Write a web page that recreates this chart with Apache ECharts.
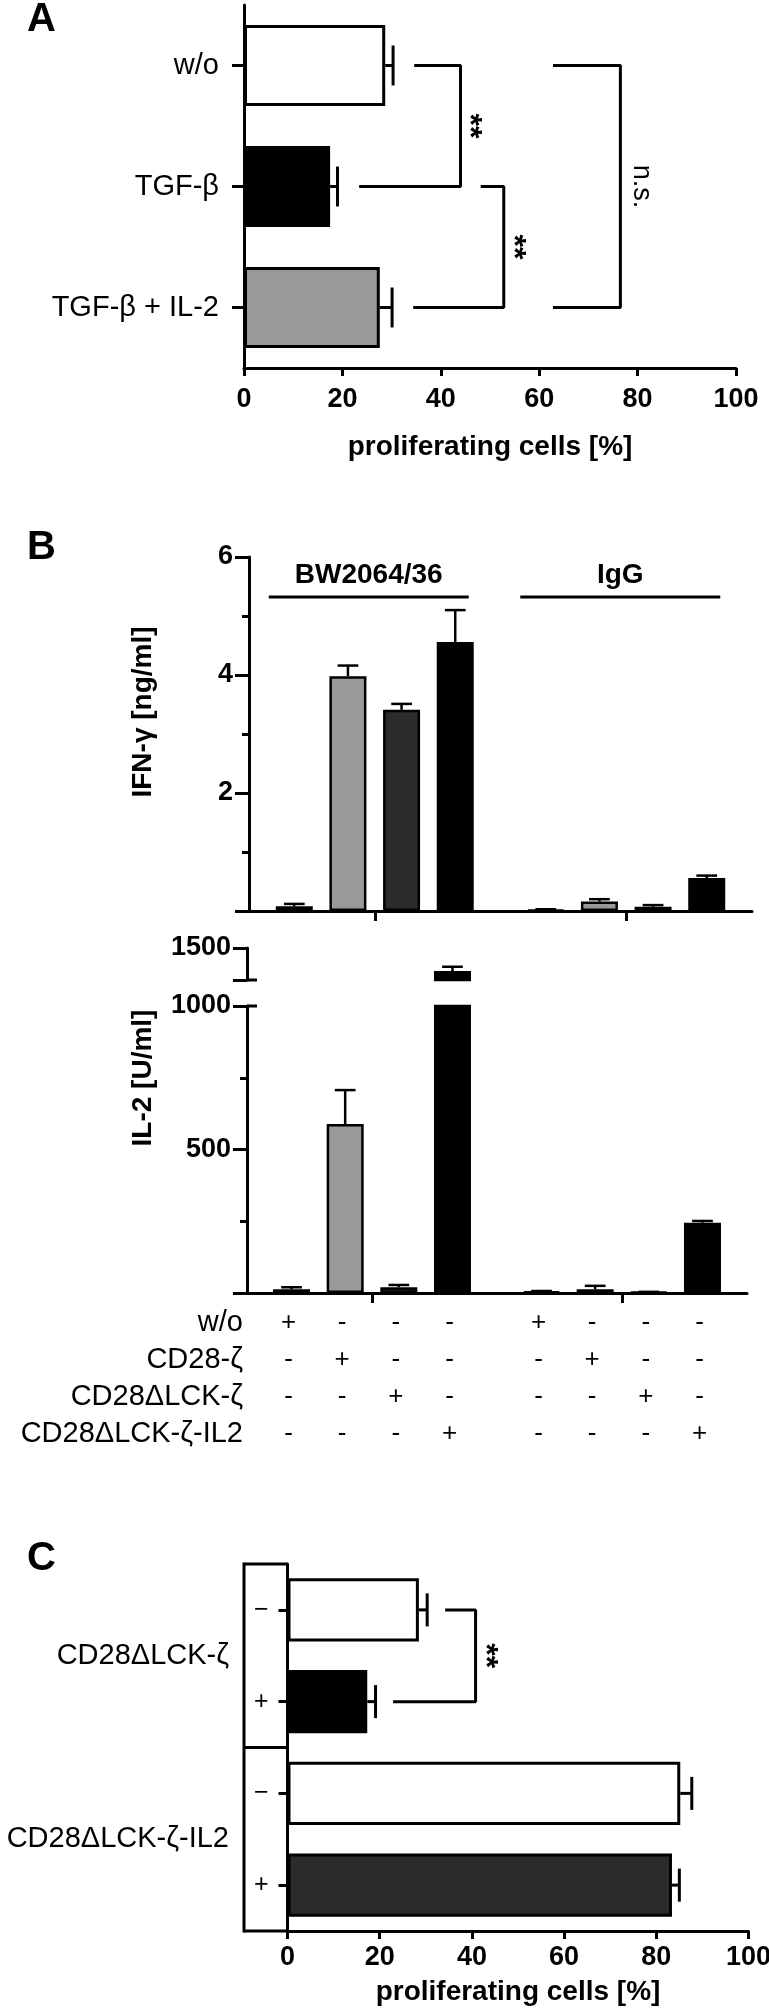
<!DOCTYPE html>
<html><head><meta charset="utf-8">
<script src="https://cdn.jsdelivr.net/npm/echarts@6/dist/echarts.min.js"></script>
<style>html,body{margin:0;padding:0;background:#fff}#c{width:769px;height:2008px}</style>
</head><body><div id="c"></div>
<script>
// ---------------- DATA ----------------
// Panel A
const aCategories = ['w/o', 'TGF-β', 'TGF-β + IL-2'];
const aValues = [28.7, 17.5, 27.6];
const aErrors = [1.6, 1.5, 2.5];
const aTicks = [0, 20, 40, 60, 80, 100];
const aBracketFrom = [0, 1, 0];
const aBracketTo = [1, 2, 2];
const aBracketStart = [34.6, 48.1, 62.8];
const aBracketSpine = [44.0, 52.8, 76.5];
const aBracketEnd = [23.4, 34.4, 62.8];
const aBracketText = ['**', '**', 'n.s.'];
const aBracketTextX = [47.6, 56.4, 80.7];
// Panel B
const groups = ['BW2064/36', 'IgG'];
const constructs = ['w/o', 'CD28-ζ', 'CD28ΔLCK-ζ', 'CD28ΔLCK-ζ-IL2'];
const ifnBW = [0.08, 3.98, 3.41, 4.56];
const ifnBWErr = [0.04, 0.18, 0.10, 0.54];
const ifnIgG = [0.02, 0.16, 0.07, 0.56];
const ifnIgGErr = [0.01, 0.04, 0.03, 0.04];
const il2BW = [13, 589, 20, 1140];
const il2BWErr = [7, 118, 8, 67];
const il2IgG = [5, 13, 3, 245];
const il2IgGErr = [2, 12, 1, 6];
const ifnTicks = [0, 2, 4, 6];
const il2LowTicks = [0, 500, 1000];
const il2HighTicks = [1000, 1500];
// Panel C
const cGroups = ['CD28ΔLCK-ζ', 'CD28ΔLCK-ζ-IL2'];
const cCategories = ['−', '+', '−', '+'];
const cValues = [28.5, 17.3, 85.2, 83.4];
const cErrors = [1.8, 1.8, 2.5, 1.6];
const cTicks = [0, 20, 40, 60, 80, 100];
const cBracketFrom = 0, cBracketTo = 1;
const cBracketStart = 34.2, cBracketSpine = 40.8, cBracketEnd = 22.9, cBracketTextX = 44.7;

// ---------------- STYLE ----------------
const FONT = '"Liberation Sans", Arial, Helvetica, sans-serif';
const aColors = ['#ffffff', '#000000', '#999999'];
const bColors = ['#999999', '#999999', '#2b2b2b', '#000000'];
const cColors = ['#ffffff', '#000000', '#ffffff', '#2b2b2b'];
const B_BAR_W = 37, B_GAP = 0.45, B_STEP = B_BAR_W * (1 + B_GAP);
const LW = 3;
const LABEL_SIZE = 29;
const STAR_SIZE = 32;
const axLine = {color: '#000', width: LW};

const chart = echarts.init(document.getElementById('c'), null, {renderer: 'canvas', width: 769, height: 2008});

function numLabel(extra) {
  return Object.assign({show: true, fontFamily: FONT, fontWeight: 'bold', fontSize: 27, color: '#000'}, extra || {});
}
function hErr(capFrac) {
  return function (params, api) {
    const m = api.value(0), c = api.value(1), e = api.value(2);
    const p0 = api.coord([m, c]), p1 = api.coord([m + e, c]);
    const half = api.size([0, 1])[1] * capFrac;
    return {type: 'group', children: [
      {type: 'line', shape: {x1: p0[0], y1: p0[1], x2: p1[0], y2: p1[1]}, style: {stroke: '#000', lineWidth: LW}},
      {type: 'line', shape: {x1: p1[0], y1: p1[1] - half, x2: p1[0], y2: p1[1] + half}, style: {stroke: '#000', lineWidth: LW}}
    ]};
  };
}
function vErr(params, api) {
  const g = api.value(0), m = api.value(1), s = api.value(2), e = api.value(3);
  const p0 = api.coord([g, m]), p1 = api.coord([g, m + e]);
  const x = p0[0] + (s - 1.5) * B_STEP;
  const half = B_BAR_W * 0.28;
  return {type: 'group', children: [
    {type: 'line', shape: {x1: x, y1: p0[1], x2: x, y2: p1[1]}, style: {stroke: '#000', lineWidth: 2.5}},
    {type: 'line', shape: {x1: x - half, y1: p1[1], x2: x + half, y2: p1[1]}, style: {stroke: '#000', lineWidth: 2.5}}
  ]};
}

const series = [];
// Panel A
series.push({type: 'bar', xAxisIndex: 0, yAxisIndex: 0, barCategoryGap: '33%',
  data: aValues.map((v, i) => ({value: v, itemStyle: {color: aColors[i]}})),
  itemStyle: {borderColor: '#000', borderWidth: LW}});
series.push({type: 'custom', xAxisIndex: 0, yAxisIndex: 0, encode: {x: 0, y: 1}, z: 4,
  data: aValues.map((v, i) => [v, i, aErrors[i]]), renderItem: hErr(0.165)});
for (let k = 0; k < aBracketFrom.length; k++) {
  series.push({type: 'line', xAxisIndex: 0, yAxisIndex: 0, symbol: 'none', silent: true, z: 5,
    lineStyle: {color: '#000', width: LW},
    data: [[aBracketStart[k], aBracketFrom[k]], [aBracketSpine[k], aBracketFrom[k]],
           [aBracketSpine[k], aBracketTo[k]], [aBracketEnd[k], aBracketTo[k]]]});
}
// Panel B – IFN
const bIfnIdx = [];
for (let s = 0; s < 4; s++) {
  bIfnIdx.push(series.length);
  series.push({type: 'bar', xAxisIndex: 1, yAxisIndex: 1, barWidth: B_BAR_W, barGap: (B_GAP * 100) + '%',
    data: [ifnBW[s], ifnIgG[s]], itemStyle: {color: bColors[s], borderColor: '#000', borderWidth: 2.5}});
}
const ifnErrData = [];
for (let s = 0; s < 4; s++) { ifnErrData.push([0, ifnBW[s], s, ifnBWErr[s]]); ifnErrData.push([1, ifnIgG[s], s, ifnIgGErr[s]]); }
series.push({type: 'custom', xAxisIndex: 1, yAxisIndex: 1, encode: {x: 0, y: 1}, z: 1, data: ifnErrData, renderItem: vErr});
// Panel B – IL-2 upper (broken) segment
const brk = il2HighTicks[0];
for (let s = 0; s < 4; s++) {
  series.push({type: 'bar', xAxisIndex: 2, yAxisIndex: 2, barWidth: B_BAR_W, barGap: (B_GAP * 100) + '%', clip: true,
    data: [il2BW[s] > brk ? il2BW[s] : '-', il2IgG[s] > brk ? il2IgG[s] : '-'],
    itemStyle: {color: bColors[s], borderColor: '#000', borderWidth: 2.5}});
}
const il2HiErr = [], il2LoErr = [], il2LowIdx = [];
for (let s = 0; s < 4; s++) {
  [[0, il2BW[s], il2BWErr[s]], [1, il2IgG[s], il2IgGErr[s]]].forEach(function (d) {
    if (d[1] > brk) il2HiErr.push([d[0], d[1], s, d[2]]); else il2LoErr.push([d[0], d[1], s, d[2]]);
  });
}
series.push({type: 'custom', xAxisIndex: 2, yAxisIndex: 2, encode: {x: 0, y: 1}, z: 1, data: il2HiErr, renderItem: vErr});
for (let s = 0; s < 4; s++) {
  il2LowIdx.push(series.length);
  series.push({type: 'bar', xAxisIndex: 3, yAxisIndex: 3, barWidth: B_BAR_W, barGap: (B_GAP * 100) + '%', clip: true,
    data: [il2BW[s], il2IgG[s]], itemStyle: {color: bColors[s], borderColor: '#000', borderWidth: 2.5}});
}
series.push({type: 'custom', xAxisIndex: 3, yAxisIndex: 3, encode: {x: 0, y: 1}, z: 1, data: il2LoErr, renderItem: vErr});
// Panel C
series.push({type: 'bar', xAxisIndex: 4, yAxisIndex: 4, barCategoryGap: '31%',
  data: cValues.map((v, i) => ({value: v, itemStyle: {color: cColors[i]}})),
  itemStyle: {borderColor: '#000', borderWidth: LW}});
series.push({type: 'custom', xAxisIndex: 4, yAxisIndex: 4, encode: {x: 0, y: 1}, z: 4,
  data: cValues.map((v, i) => [v, i, cErrors[i]]), renderItem: hErr(0.18)});
series.push({type: 'line', xAxisIndex: 4, yAxisIndex: 4, symbol: 'none', silent: true, z: 5,
  lineStyle: {color: '#000', width: LW},
  data: [[cBracketStart, cBracketFrom], [cBracketSpine, cBracketFrom], [cBracketSpine, cBracketTo], [cBracketEnd, cBracketTo]]});

const gridBase = {containLabel: false, outerBoundsMode: 'none'};
const option = {
  animation: false,
  backgroundColor: '#ffffff',
  textStyle: {fontFamily: FONT, color: '#000'},
  grid: [
    Object.assign({left: 244, top: 5, width: 492, height: 363}, gridBase),
    Object.assign({left: 249, top: 557, width: 503, height: 354}, gridBase),
    Object.assign({left: 247, top: 948, width: 500, height: 32}, gridBase),
    Object.assign({left: 247, top: 1006, width: 500, height: 287}, gridBase),
    Object.assign({left: 287.5, top: 1564, width: 461, height: 367}, gridBase)
  ],
  xAxis: [
    {gridIndex: 0, type: 'value', min: aTicks[0], max: aTicks[aTicks.length - 1], interval: aTicks[1] - aTicks[0],
      axisLine: {show: true, onZero: false, lineStyle: axLine}, axisTick: {show: true, length: 8, lineStyle: axLine},
      splitLine: {show: false}, axisLabel: numLabel({margin: 18}),
      name: 'proliferating cells [%]', nameLocation: 'middle', nameGap: 79,
      nameTextStyle: {fontFamily: FONT, fontWeight: 'bold', fontSize: 28, color: '#000', verticalAlign: 'middle'}},
    {gridIndex: 1, type: 'category', data: groups, axisLine: {show: true, onZero: false, lineStyle: axLine},
      axisTick: {show: true, alignWithLabel: true, length: 10, lineStyle: axLine}, axisLabel: {show: false}, splitLine: {show: false}},
    {gridIndex: 2, type: 'category', data: groups, show: false},
    {gridIndex: 3, type: 'category', data: groups, axisLine: {show: true, onZero: false, lineStyle: axLine},
      axisTick: {show: true, alignWithLabel: true, length: 10, lineStyle: axLine}, axisLabel: {show: false}, splitLine: {show: false}},
    {gridIndex: 4, type: 'value', min: cTicks[0], max: cTicks[cTicks.length - 1], interval: cTicks[1] - cTicks[0],
      axisLine: {show: true, onZero: false, lineStyle: axLine}, axisTick: {show: true, length: 8, lineStyle: axLine},
      splitLine: {show: false}, axisLabel: numLabel({margin: 13}),
      name: 'proliferating cells [%]', nameLocation: 'middle', nameGap: 61,
      nameTextStyle: {fontFamily: FONT, fontWeight: 'bold', fontSize: 28, color: '#000', verticalAlign: 'middle'}}
  ],
  yAxis: [
    {gridIndex: 0, type: 'category', data: aCategories, inverse: true,
      axisLine: {show: true, onZero: false, lineStyle: axLine},
      axisTick: {show: true, alignWithLabel: true, length: 12, lineStyle: axLine},
      axisLabel: {fontFamily: FONT, fontSize: LABEL_SIZE, color: '#000', margin: 25}, splitLine: {show: false}},
    {gridIndex: 1, type: 'value', min: ifnTicks[0], max: ifnTicks[ifnTicks.length - 1], interval: ifnTicks[1] - ifnTicks[0],
      axisLine: {show: true, onZero: false, lineStyle: axLine}, axisTick: {show: true, length: 14, lineStyle: axLine},
      minorTick: {show: true, splitNumber: 2, length: 7, lineStyle: {color: '#000', width: LW}},
      splitLine: {show: false}, minorSplitLine: {show: false},
      axisLabel: numLabel({margin: 16, formatter: v => (v === ifnTicks[0] ? '' : String(v))})},
    {gridIndex: 2, type: 'value', min: il2HighTicks[0], max: il2HighTicks[il2HighTicks.length - 1], interval: il2HighTicks[1] - il2HighTicks[0],
      axisLine: {show: true, onZero: false, lineStyle: axLine}, axisTick: {show: true, length: 14, lineStyle: axLine},
      splitLine: {show: false},
      axisLabel: numLabel({margin: 16, formatter: v => (v === il2HighTicks[0] ? '' : String(v))})},
    {gridIndex: 3, type: 'value', min: il2LowTicks[0], max: il2LowTicks[il2LowTicks.length - 1], interval: il2LowTicks[1] - il2LowTicks[0],
      axisLine: {show: true, onZero: false, lineStyle: axLine}, axisTick: {show: true, length: 14, lineStyle: axLine},
      minorTick: {show: true, splitNumber: 2, length: 7, lineStyle: {color: '#000', width: LW}},
      splitLine: {show: false}, minorSplitLine: {show: false},
      axisLabel: numLabel({margin: 16, formatter: v => (v === il2LowTicks[0] ? '' : String(v))})},
    {gridIndex: 4, type: 'category', data: cCategories, inverse: true,
      axisLine: {show: true, onZero: false, lineStyle: axLine},
      axisTick: {show: true, alignWithLabel: true, length: 9, lineStyle: axLine},
      axisLabel: {fontFamily: FONT, fontSize: 25, color: '#000', margin: 19}, splitLine: {show: false}}
  ],
  series: series
};
chart.setOption(option);

// ---------------- annotations (positions derived from the axes) ----------------
function T(text, x, y, o) {
  o = o || {};
  return {type: 'text', x: x, y: y, rotation: o.rot || 0, silent: true, z: 10,
    style: {text: text, fill: '#000', font: (o.bold ? 'bold ' : '') + (o.size || 27) + 'px ' + FONT,
      align: o.align || 'center', verticalAlign: 'middle'}};
}
function L(x1, y1, x2, y2, w) {
  return {type: 'line', silent: true, z: 10, shape: {x1: x1, y1: y1, x2: x2, y2: y2}, style: {stroke: '#000', lineWidth: w || LW}};
}
const px = (gi, v) => chart.convertToPixel({gridIndex: gi}, v);
function barCenter(si, di) {
  try {
    const lay = chart.getModel().getSeriesByIndex(si).getData().getItemLayout(di);
    if (lay && isFinite(lay.x)) return lay.x + lay.width / 2;
  } catch (e) {}
  const s = il2LowIdx.indexOf(si);
  return px(3, [di, 0])[0] + (s - 1.5) * B_STEP;
}
// rotated "**": asterisks sit high in the em box, so shift the box so the glyphs land on the target
function starLabel(text, x, y) {
  if (text === '**') return T(text, x - STAR_SIZE * 0.28, y, {bold: true, size: STAR_SIZE, rot: -Math.PI / 2});
  return T(text, x, y, {size: 27, rot: -Math.PI / 2});
}
const G = [];
// panel letters
G.push(T('A', 41.5, 20, {bold: true, size: 40}));
G.push(T('B', 41.5, 548, {bold: true, size: 40}));
G.push(T('C', 41.5, 1559, {bold: true, size: 40}));
// A significance labels
for (let k = 0; k < aBracketText.length; k++) {
  const p = px(0, [aBracketTextX[k], aBracketFrom[k]]), q = px(0, [aBracketTextX[k], aBracketTo[k]]);
  G.push(starLabel(aBracketText[k], p[0], (p[1] + q[1]) / 2));
}
// B group headers
groups.forEach(function (g, i) {
  const cx = px(1, [i, 0])[0] - 6;
  G.push(T(g, cx, 575, {bold: true, size: 28}));
  G.push(L(cx - 100, 597, cx + 100, 597));
});
// B axis names
G.push(T('IFN-γ [ng/ml]', 143, 712, {bold: true, size: 28, rot: Math.PI / 2}));
G.push(T('IL-2 [U/ml]', 143, 1078, {bold: true, size: 28, rot: Math.PI / 2}));
// break marks crossing the IL-2 axis
const axX = 247;
G.push(L(axX, px(2, [0, brk])[1], axX + 10, px(2, [0, brk])[1]));
G.push(L(axX, px(3, [0, brk])[1], axX + 10, px(3, [0, brk])[1]));
// B construct table
const baseY = px(3, [0, 0])[1];
constructs.forEach(function (name, r) {
  const y = baseY + 30 + r * 37;
  G.push(T(name, 243, y, {size: LABEL_SIZE, align: 'right'}));
  for (let s = 0; s < 4; s++) {
    for (let gi = 0; gi < groups.length; gi++) {
      G.push(T(s === r ? '+' : '-', barCenter(il2LowIdx[s], gi) - 3, y, {size: 26}));
    }
  }
});
// C frame and labels
const cAx = px(4, [0, 0])[0];
const cy = cCategories.map((c, i) => px(4, [0, i])[1]);
const band = cy[1] - cy[0];
const cTop = cy[0] - band / 2, cBot = cy[3] + band / 2, cMid = (cy[1] + cy[2]) / 2;
const frameX = 244;
G.push(L(frameX, cTop - 1.5, frameX, cBot + 1.5));
G.push(L(frameX, cTop, cAx, cTop));
G.push(L(frameX, cMid, cAx, cMid));
G.push(L(frameX, cBot, cAx, cBot));
G.push(T(cGroups[0], 229, (cy[0] + cy[1]) / 2, {size: LABEL_SIZE, align: 'right'}));
G.push(T(cGroups[1], 229, (cy[2] + cy[3]) / 2, {size: LABEL_SIZE, align: 'right'}));
{
  const p = px(4, [cBracketTextX, cBracketFrom]), q = px(4, [cBracketTextX, cBracketTo]);
  G.push(starLabel('**', p[0], (p[1] + q[1]) / 2));
}
chart.setOption({graphic: G});
</script></body></html>
